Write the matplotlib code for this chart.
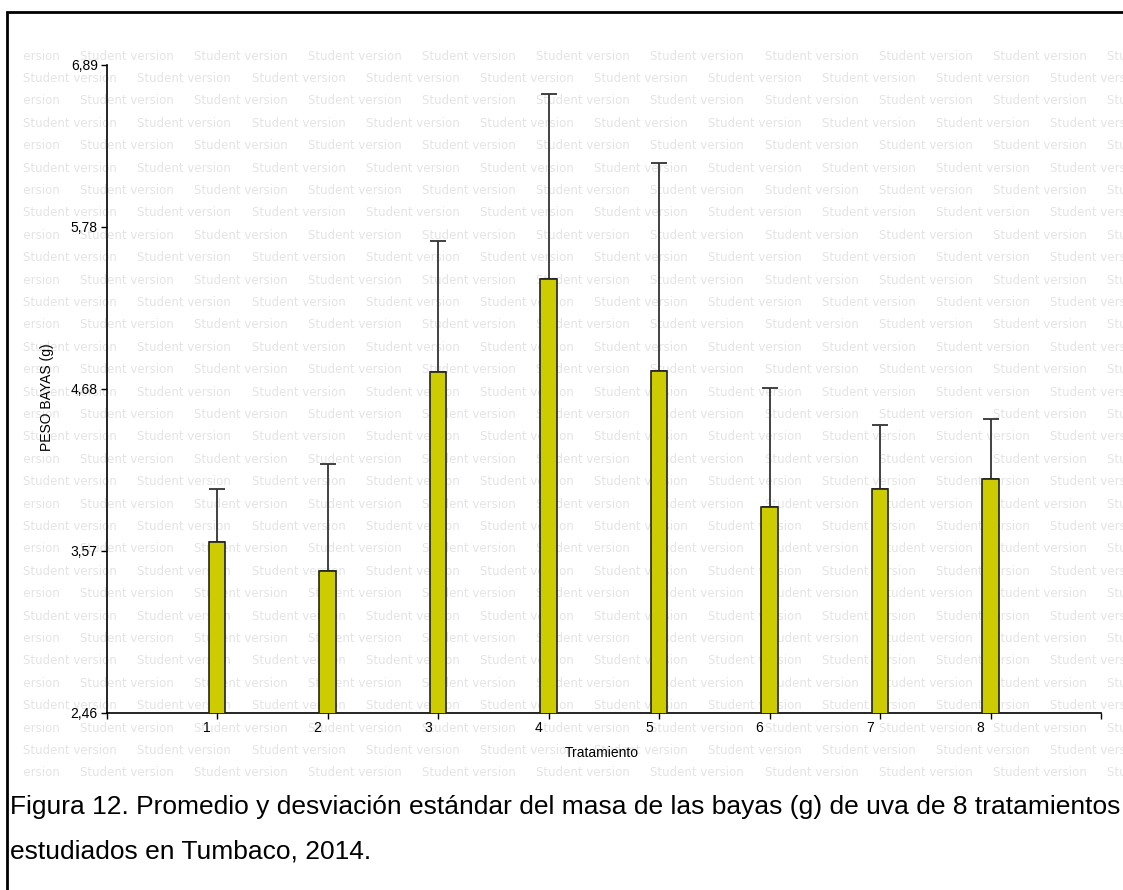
import numpy as np
import matplotlib
matplotlib.use("Agg")
import matplotlib.pyplot as plt
from matplotlib.transforms import Bbox, TransformedBbox, ScaledTranslation

# data (g)
tratamientos = [1, 2, 3, 4, 5, 6, 7, 8]
promedio = [3.63, 3.43, 4.79, 5.43, 4.80, 3.87, 3.99, 4.06]
desviacion = [0.36, 0.73, 0.90, 1.26, 1.42, 0.81, 0.44, 0.41]
y_ticks = [2.46, 3.5675, 4.675, 5.7825, 6.89]
y_tick_labels = ["2,46", "3,57", "4,68", "5,78", "6,89"]

W, H = 1123, 890
plt.rcParams["font.family"] = ["Liberation Sans", "DejaVu Sans"]

fig = plt.figure(figsize=(W / 100, H / 100), dpi=100)

# background layer: watermark + frame, in pixel coords
bg = fig.add_axes([0, 0, 1, 1], zorder=0)
bg.set_xlim(0, W)
bg.set_ylim(H, 0)
bg.axis("off")

clip = TransformedBbox(Bbox([[23, 44], [W, 789]]), bg.transData)
for i in range(33):
    y = 56 + 22.4 * i
    x0 = 80 if i % 2 == 0 else 23.3
    for k in range(-1, 11):
        t = bg.text(x0 + 114.1 * k, y, "Student version", ha="left", va="center",
                    fontsize=8.5, family="DejaVu Sans", color="#e4e4e4")
        t.set_clip_box(clip)
        t.set_clip_on(True)

bg.plot([7.3, 7.3, W], [H, 11.7, 11.7], color="black", lw=2, solid_joinstyle="miter")

# main chart
ax = fig.add_axes([106.7 / W, (H - 713) / H, (1101 - 106.7) / W, (713 - 65) / H], zorder=1)
ax.patch.set_alpha(0)

ax.errorbar(tratamientos, promedio, yerr=[np.zeros(len(desviacion)), desviacion],
            fmt="none", ecolor="#333333", elinewidth=1.3, capsize=6, capthick=1.3, zorder=2)
ax.bar(tratamientos, promedio, width=0.15, color="#cccc00", edgecolor="#222222",
       linewidth=1.2, zorder=3)

ax.set_xlim(0, 9)
ax.set_ylim(2.46, 6.89)
ax.set_xticks(range(10))
ax.set_xticklabels([""] + [str(t) for t in tratamientos] + [""])
ax.set_yticks(y_ticks)
ax.set_yticklabels(y_tick_labels)

for s in ["top", "right"]:
    ax.spines[s].set_visible(False)
for s in ["left", "bottom"]:
    ax.spines[s].set_linewidth(1.2)
ax.tick_params(axis="both", direction="out", length=4.5, width=1, labelsize=10)
ax.tick_params(axis="x", pad=1)
ax.tick_params(axis="y", pad=2)

shift = ScaledTranslation(-10 / 100, 0, fig.dpi_scale_trans)
for lab in ax.get_xticklabels():
    lab.set_transform(lab.get_transform() + shift)

ax.set_xlabel("Tratamiento", fontsize=10)
ax.xaxis.set_label_coords(0.498, -0.061)
ax.set_ylabel("PESO BAYAS (g)", fontsize=10)
ax.yaxis.set_label_coords(-0.06, 0.488)
ax.xaxis.label.set_va("center")
ax.yaxis.label.set_va("center")

fig.text(10 / W, 1 - 807 / H,
         "Figura 12. Promedio y desviación estándar del masa de las bayas (g) de uva de 8 tratamientos",
         fontsize=19, va="center", ha="left")
fig.text(10 / W, 1 - 851 / H, "estudiados en Tumbaco, 2014.",
         fontsize=19, va="center", ha="left")

fig.savefig("out.png", dpi=100)
